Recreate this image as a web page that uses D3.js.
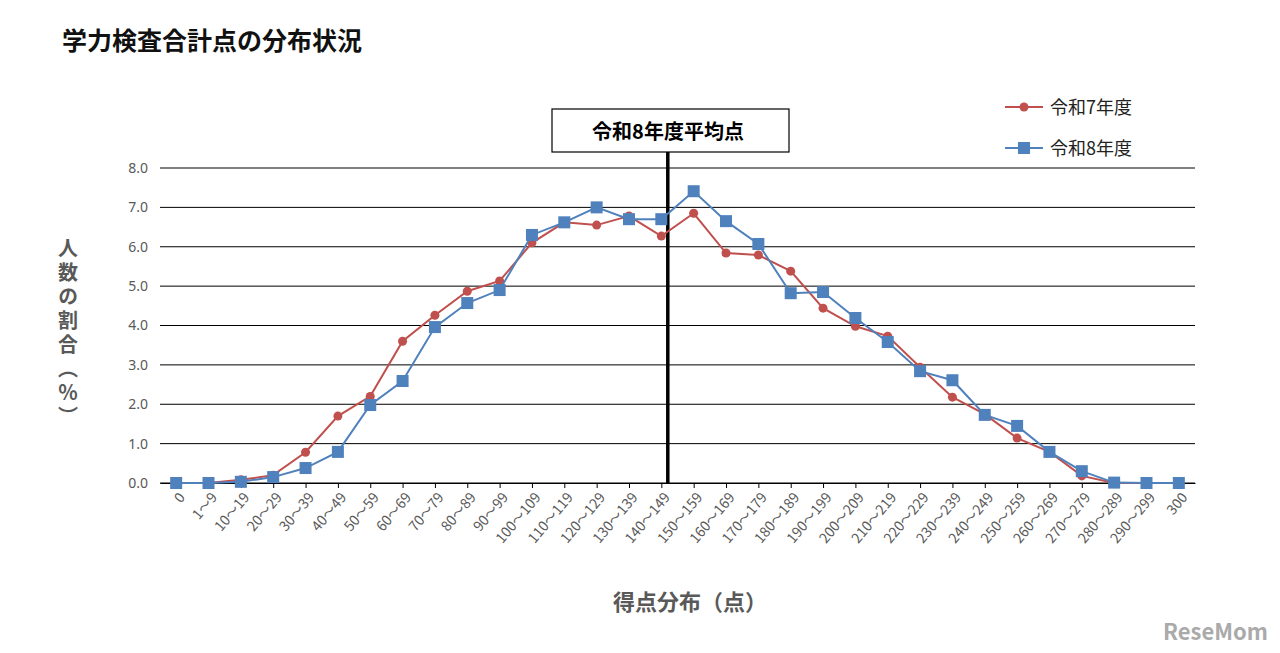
<!DOCTYPE html>
<html><head><meta charset="utf-8">
<script src="https://cdn.jsdelivr.net/npm/d3@7"></script>
<style>body{margin:0;background:#fff;font-family:"Noto Sans CJK JP","Noto Sans",sans-serif;}</style>
</head><body>
<svg id="chart" width="1280" height="653"></svg>
<script>
// categories and values
const categories = ["0","1～9","10～19","20～29","30～39","40～49","50～59","60～69","70～79","80～89","90～99",
  "100～109","110～119","120～129","130～139","140～149","150～159","160～169","170～179","180～189","190～199",
  "200～209","210～219","220～229","230～239","240～249","250～259","260～269","270～279","280～289","290～299","300"];
const r7 = [0,0,0.08,0.2,0.78,1.7,2.2,3.6,4.26,4.87,5.13,6.1,6.62,6.55,6.78,6.27,6.85,5.84,5.79,5.38,4.44,3.98,3.73,2.94,2.18,1.75,1.14,0.79,0.18,0,0,0];
const r8 = [0,0,0.03,0.15,0.38,0.79,1.98,2.59,3.96,4.57,4.9,6.3,6.62,7.0,6.7,6.7,7.41,6.65,6.07,4.82,4.85,4.19,3.58,2.84,2.61,1.73,1.45,0.79,0.3,0.01,0,0];
const yTicks = [0,1,2,3,4,5,6,7,8];
const averagePos = 15.2; // category index of the average line

const svg = d3.select("#chart");
const plotL = 160, plotR = 1195, plotT = 168, plotB = 483;

const x = d3.scalePoint().domain(categories).range([plotL, plotR]).padding(0.5);
const xi = d3.scaleLinear().domain([0, categories.length - 1]).range([x(categories[0]), x(categories[categories.length - 1])]);
const y = d3.scaleLinear().domain([0, 8]).range([plotB, plotT]);

svg.append("text").attr("x", 62).attr("y", 50).text("学力検査合計点の分布状況")
  .style("font-size", "25px").style("font-weight", "bold").style("fill", "#111");

// gridlines
svg.append("g").selectAll("line").data(yTicks).join("line")
  .attr("x1", plotL).attr("x2", plotR).attr("y1", d => y(d)).attr("y2", d => y(d))
  .attr("stroke", "#000").attr("stroke-width", 1);

svg.append("g").attr("transform", `translate(${plotL},0)`)
  .call(d3.axisLeft(y).tickValues(yTicks).tickFormat(d3.format(".1f")).tickSize(0).tickPadding(12))
  .call(g => g.select(".domain").remove())
  .selectAll("text").style("font-size", "14px").style("fill", "#595959").style("font-family", "Noto Sans");

const xg = svg.append("g").attr("transform", `translate(0,${plotB})`)
  .call(d3.axisBottom(x).tickSize(5).tickSizeOuter(0));
xg.select(".domain").attr("stroke", "#000");
xg.selectAll("text").attr("transform", "rotate(-50)").attr("text-anchor", "end")
  .attr("dx", "-0.4em").attr("dy", "0.6em")
  .style("font-size", "14px").style("fill", "#595959").style("font-family", "Noto Sans CJK JP");

// average line and label
const ax = xi(averagePos);
svg.append("line").attr("x1", ax).attr("x2", ax).attr("y1", 152).attr("y2", plotB)
  .attr("stroke", "#000").attr("stroke-width", 3.5);
svg.append("rect").attr("x", 552).attr("y", 109).attr("width", 237).attr("height", 43)
  .attr("fill", "#fff").attr("stroke", "#000").attr("stroke-width", 1.2);
svg.append("text").attr("x", 668).attr("y", 139).attr("text-anchor", "middle").text("令和8年度平均点")
  .style("font-size", "20px").style("font-weight", "bold");

const line = d3.line().x((d, i) => x(categories[i])).y(d => y(d));
const series = [
  {name: "令和7年度", values: r7, color: "#C0504D", shape: "circle"},
  {name: "令和8年度", values: r8, color: "#4F81BD", shape: "square"}
];
series.forEach(s => {
  svg.append("path").datum(s.values).attr("d", line).attr("fill", "none")
    .attr("stroke", s.color).attr("stroke-width", 2);
  const g = svg.append("g");
  if (s.shape === "circle") {
    g.selectAll("circle").data(s.values).join("circle")
      .attr("cx", (d, i) => x(categories[i])).attr("cy", d => y(d)).attr("r", 4.5).attr("fill", s.color);
  } else {
    g.selectAll("rect").data(s.values).join("rect")
      .attr("x", (d, i) => x(categories[i]) - 6).attr("y", d => y(d) - 6)
      .attr("width", 12).attr("height", 12).attr("fill", s.color);
  }
});

// legend
series.forEach((s, i) => {
  const ly = 107 + i * 41;
  svg.append("line").attr("x1", 1005).attr("x2", 1043).attr("y1", ly).attr("y2", ly)
    .attr("stroke", s.color).attr("stroke-width", 2);
  if (s.shape === "circle") svg.append("circle").attr("cx", 1024).attr("cy", ly).attr("r", 4.5).attr("fill", s.color);
  else svg.append("rect").attr("x", 1018).attr("y", ly - 6).attr("width", 12).attr("height", 12).attr("fill", s.color);
  svg.append("text").attr("x", 1050).attr("y", ly + 7).text(s.name).style("font-size", "18px").style("fill", "#222");
});

// axis titles (vertical writing)
svg.append("text").attr("x", 68).attr("y", 238).text("人数の割合（％）")
  .style("writing-mode", "vertical-rl").style("letter-spacing", "4px")
  .style("font-size", "20px").style("font-weight", "bold").style("fill", "#595959");
svg.append("text").attr("x", 690).attr("y", 610).attr("text-anchor", "middle").text("得点分布（点）")
  .style("font-size", "22px").style("font-weight", "bold").style("fill", "#595959");

svg.append("text").attr("x", 1268).attr("y", 640).attr("text-anchor", "end").text("ReseMom")
  .style("font-size", "22px").style("font-weight", "bold").style("fill", "#aaa");
</script>
</body></html>
